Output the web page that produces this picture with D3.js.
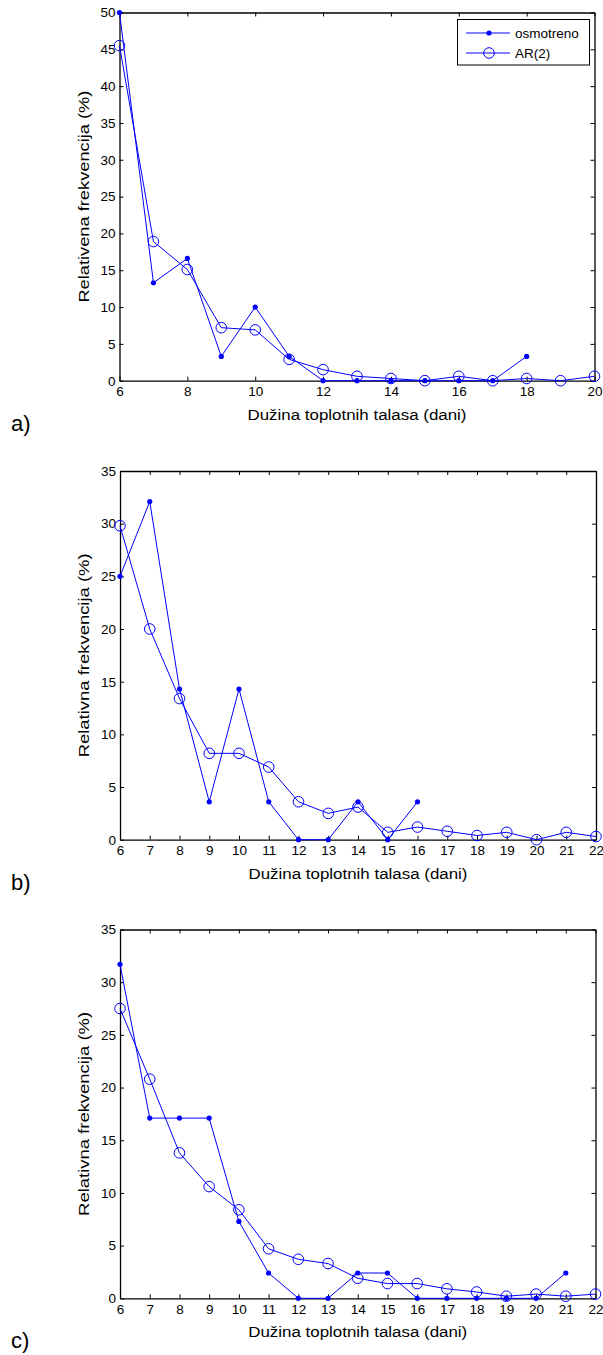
<!DOCTYPE html>
<html>
<head>
<meta charset="utf-8">
<script src="https://cdn.jsdelivr.net/npm/d3@7"></script>
<style>
  body { margin: 0; background: #fff; }
  svg { display: block; }
  text { font-family: "Liberation Sans", Arial, sans-serif; fill: #000; }
</style>
</head>
<body>
<svg id="chart" width="603" height="1355"></svg>
<script>
// ---- data ----
const daysA = [6,7,8,9,10,11,12,13,14,15,16,17,18,19,20];
const obsA  = [50,13.3,16.6,3.3,10,3.3,0,0,0,0,0,0,3.3];
const arA   = [45.5,18.9,15.1,7.2,6.9,2.9,1.5,0.6,0.3,0.0,0.6,0.0,0.3,0.0,0.6];

const daysB = [6,7,8,9,10,11,12,13,14,15,16,17,18,19,20,21,22];
const obsB  = [25,32.1,14.3,3.6,14.3,3.6,0,0,3.6,0,3.6];
const arB   = [29.8,20.0,13.4,8.2,8.2,6.9,3.6,2.5,3.1,0.7,1.2,0.8,0.4,0.7,0.0,0.7,0.3];

const daysC = [6,7,8,9,10,11,12,13,14,15,16,17,18,19,20,21,22];
const obsC  = [31.7,17.1,17.1,17.1,7.3,2.4,0,0,2.4,2.4,0,0,0,0,0,2.4];
const arC   = [27.5,20.8,13.8,10.6,8.4,4.7,3.7,3.3,1.9,1.4,1.4,0.9,0.6,0.2,0.4,0.2,0.4];

const xTicksA = [6,8,10,12,14,16,18,20];
const xTicksBC = [6,7,8,9,10,11,12,13,14,15,16,17,18,19,20,21,22];
const yTicksA = [0,5,10,15,20,25,30,35,40,45,50];
const yTicksBC = [0,5,10,15,20,25,30,35];

const seriesNames = ["osmotreno", "AR(2)"];
const xLabel = "Dužina toplotnih talasa (dani)";
const yLabelA = "Relativena frekvencija (%)";
const yLabel = "Relativna frekvencija (%)";
const panelLetters = ["a)", "b)", "c)"];

// ---- layout ----
const svg = d3.select("#chart");
const BLUE = "#0000ff";
const FONT = '"Liberation Sans", Arial, sans-serif';

const panels = [
  { days: daysA, obs: obsA, ar: arA, xDom: [6,20], yDom: [0,50], xTicks: xTicksA, yTicks: yTicksA,
    left: 119.5, right: 594.5, top: 12.5, bottom: 380.7, legend: true, letter: panelLetters[0], yLab: yLabelA, yLen: 212 },
  { days: daysB, obs: obsB, ar: arB, xDom: [6,22], yDom: [0,35], xTicks: xTicksBC, yTicks: yTicksBC,
    left: 120, right: 596, top: 471, bottom: 839.7, legend: false, letter: panelLetters[1], yLab: yLabel, yLen: 204 },
  { days: daysC, obs: obsC, ar: arC, xDom: [6,22], yDom: [0,35], xTicks: xTicksBC, yTicks: yTicksBC,
    left: 120, right: 595.5, top: 929.5, bottom: 1298.3, legend: false, letter: panelLetters[2], yLab: yLabel, yLen: 204 }
];

panels.forEach(p => {
  const x = d3.scaleLinear().domain(p.xDom).range([p.left, p.right]);
  const y = d3.scaleLinear().domain(p.yDom).range([p.bottom, p.top]);
  const g = svg.append("g");

  // axes (inward ticks on all sides)
  const tk = 4;
  const bottomAx = g.append("g").attr("transform", `translate(0,${p.bottom})`)
    .call(d3.axisBottom(x).tickValues(p.xTicks).tickSizeInner(-tk).tickSizeOuter(0).tickPadding(6));
  const topAx = g.append("g").attr("transform", `translate(0,${p.top})`)
    .call(d3.axisTop(x).tickValues(p.xTicks).tickSizeInner(-tk).tickSizeOuter(0).tickFormat(""));
  const leftAx = g.append("g").attr("transform", `translate(${p.left},0)`)
    .call(d3.axisLeft(y).tickValues(p.yTicks).tickSizeInner(-tk).tickSizeOuter(0).tickPadding(4));
  const rightAx = g.append("g").attr("transform", `translate(${p.right},0)`)
    .call(d3.axisRight(y).tickValues(p.yTicks).tickSizeInner(-tk).tickSizeOuter(0).tickFormat(""));
  [bottomAx, topAx, leftAx, rightAx].forEach(a => {
    a.select(".domain").attr("stroke", "#000").attr("stroke-width", 1.3);
    a.selectAll(".tick line").attr("stroke", "#000").attr("stroke-width", 1);
    a.selectAll("text").attr("font-size", 13.5).attr("font-family", FONT).attr("fill", "#111");
  });

  // lines
  const line = d3.line().x((d, i) => x(p.days[i])).y(d => y(d));
  g.append("path").datum(p.obs).attr("d", line)
    .attr("fill", "none").attr("stroke", BLUE).attr("stroke-width", 1);
  g.append("path").datum(p.ar).attr("d", line)
    .attr("fill", "none").attr("stroke", BLUE).attr("stroke-width", 1);

  g.selectAll(".dot").data(p.obs).enter().append("circle")
    .attr("cx", (d, i) => x(p.days[i])).attr("cy", d => y(d)).attr("r", 2.6)
    .attr("fill", BLUE);
  g.selectAll(".ring").data(p.ar).enter().append("circle")
    .attr("cx", (d, i) => x(p.days[i])).attr("cy", d => y(d)).attr("r", 5.3)
    .attr("fill", "none").attr("stroke", BLUE).attr("stroke-width", 1);

  // labels
  g.append("text").attr("x", (p.left + p.right) / 2).attr("y", p.bottom + 39)
    .attr("text-anchor", "middle").attr("font-size", 15.5)
    .attr("textLength", 219).attr("lengthAdjust", "spacingAndGlyphs").text(xLabel);
  g.append("text")
    .attr("transform", `translate(${p.left - 31},${(p.top + p.bottom) / 2}) rotate(-90)`)
    .attr("text-anchor", "middle").attr("font-size", 15.5)
    .attr("textLength", p.yLen).attr("lengthAdjust", "spacingAndGlyphs").text(p.yLab);
  g.append("text").attr("x", 11).attr("y", p.bottom + 50)
    .attr("font-family", '"Liberation Serif", "Times New Roman", serif')
    .attr("font-size", 22).text(p.letter);

  // legend
  if (p.legend) {
    const lg = g.append("g");
    lg.append("rect").attr("x", 457.5).attr("y", 19.5).attr("width", 132).attr("height", 45.5)
      .attr("fill", "#fff").attr("stroke", "#000").attr("stroke-width", 1);
    const rows = [33, 53];
    seriesNames.forEach((name, i) => {
      lg.append("line").attr("x1", 466).attr("x2", 510).attr("y1", rows[i]).attr("y2", rows[i])
        .attr("stroke", BLUE).attr("stroke-width", 1);
      if (i === 0) {
        lg.append("circle").attr("cx", 489).attr("cy", rows[i]).attr("r", 2.6).attr("fill", BLUE);
      } else {
        lg.append("circle").attr("cx", 489).attr("cy", rows[i]).attr("r", 5.3)
          .attr("fill", "none").attr("stroke", BLUE).attr("stroke-width", 1);
      }
      lg.append("text").attr("x", 515).attr("y", rows[i] + 5).attr("font-size", 13.5).text(name);
    });
  }
});
</script>
</body>
</html>
